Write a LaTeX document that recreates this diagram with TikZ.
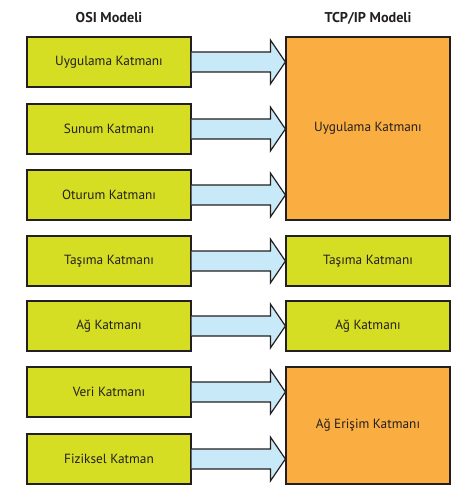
\documentclass[tikz,border=0pt]{standalone}
\usepackage{fontspec}
\setmainfont{PT Sans}
\usepackage{xcolor}
\usetikzlibrary{calc}
\definecolor{katmanyesil}{HTML}{D5DE22}
\definecolor{katmanturuncu}{HTML}{FAAD40}
\definecolor{okmavi}{HTML}{C8E9F8}
\definecolor{cizgi}{HTML}{231F20}

\begin{document}
\begin{tikzpicture}[x=1pt, y=-1pt,
            katman/.style={draw=cizgi, line width=1.2pt, fill=katmanyesil, minimum width=164pt, minimum height=50pt, text=cizgi, font=\fontsize{13.3}{16}\selectfont},
            buyuk/.style={katman, fill=katmanturuncu},
            baslik/.style={text=cizgi, font=\bfseries\fontsize{14.2}{17}\selectfont},
            kalinok/.style={draw=cizgi, line width=1.2pt, fill=okmavi, line join=miter}]
            \useasboundingbox (0,0) rectangle (463,492);
            \node[baslik] (osi) at (109,18) {OSI Modeli};
            \node[baslik] (tcp) at (368,18) {TCP/IP Modeli};
            % OSI katmanlari
            \node[katman] (osi1) at (109,62) {Uygulama Katmanı};
            \node[katman] (osi2) at (109,129) {Sunum Katmanı};
            \node[katman] (osi3) at (109,195) {Oturum Katmanı};
            \node[katman] (osi4) at (109,261) {Taşıma Katmanı};
            \node[katman] (osi5) at (109,326) {Ağ Katmanı};
            \node[katman] (osi6) at (109,392) {Veri Katmanı};
            \node[katman] (osi7) at (109,459) {Fiziksel Katman};
            % TCP/IP katmanlari
            \node[buyuk, minimum height=183pt] (tcp1) at (368,128.5) {Uygulama Katmanı};
            \node[katman] (tcp2) at (368,261) {Taşıma Katmanı};
            \node[katman] (tcp3) at (368,326) {Ağ Katmanı};
            \node[buyuk, minimum height=117pt] (tcp4) at (368,425.5) {Ağ Erişim Katmanı};
            \foreach \a/\b in {osi1/tcp1, osi2/tcp1, osi3/tcp1, osi4/tcp2, osi5/tcp3, osi6/tcp4, osi7/tcp4}
                \draw[kalinok] ($(\a.east)+(0,-10)$) -- ($(\a.east -| \b.west)+(-15,-10)$) -- ++(0,-12)
                    -- (\a.east -| \b.west) -- ($(\a.east -| \b.west)+(-15,22)$) -- ++(0,-12) -- ($(\a.east)+(0,10)$);
        \end{tikzpicture}
\end{document}
